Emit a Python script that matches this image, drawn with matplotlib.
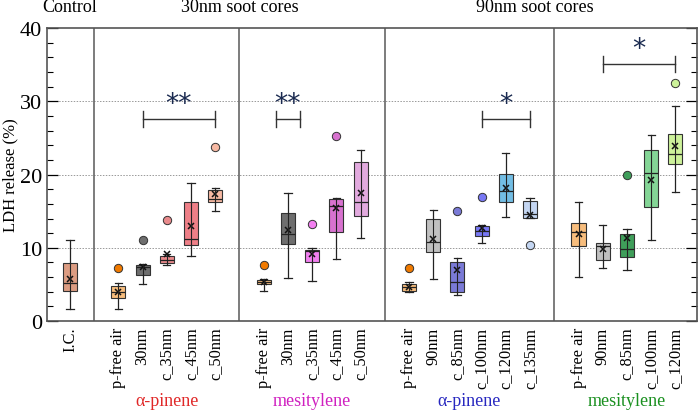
import matplotlib.pyplot as plt
from matplotlib.ticker import MultipleLocator

plt.rcParams['font.family'] = ['Liberation Serif', 'DejaVu Serif']

# category labels and positions (dividers sit between the groups)
labels = ['I.C.',
          'p-free air', '30nm', 'c_35nm', 'c_45nm', 'c_50nm',
          'p-free air', '30nm', 'c_35nm', 'c_45nm', 'c_50nm',
          'p-free air', '90nm', 'c_85nm', 'c_100nm', 'c_120nm', 'c_135nm',
          'p-free air', '90nm', 'c_85nm', 'c_100nm', 'c_120nm']
positions = [1, 3, 4, 5, 6, 7, 9, 10, 11, 12, 13,
             15, 16, 17, 18, 19, 20, 22, 23, 24, 25, 26]

# box statistics (LDH release, %)
whis_lo = [1.7, 1.6, 5.0, 7.6, 8.9, 15.0, 4.1, 5.9, 5.5, 8.5, 11.3,
           4.0, 5.7, 3.5, 10.6, 14.2, 14.1, 6.0, 7.3, 7.0, 11.0, 17.6]
q1 = [4.05, 3.2, 6.3, 7.9, 10.4, 16.3, 5.0, 10.5, 8.0, 12.1, 14.3,
      4.1, 9.4, 3.95, 11.55, 16.2, 14.1, 10.2, 8.3, 8.7, 15.6, 21.5]
med = [5.15, 4.0, 7.4, 8.4, 11.15, 16.6, 5.3, 11.9, 9.6, 15.7, 16.2,
       4.6, 10.8, 5.4, 12.25, 17.8, 14.6, 12.1, 10.3, 9.8, 20.15, 22.8]
q3 = [7.9, 4.8, 7.7, 8.9, 16.3, 17.9, 5.6, 14.7, 9.7, 16.6, 21.75,
      5.1, 14.0, 8.0, 13.0, 20.1, 16.4, 13.4, 10.6, 11.9, 23.4, 25.6]
whis_hi = [11.05, 5.2, 7.8, 9.2, 18.8, 18.2, 5.7, 17.5, 10.0, 16.8, 23.3,
           5.3, 15.2, 8.65, 13.15, 23.0, 16.75, 16.2, 13.1, 12.55, 25.35, 29.3]
means = [5.7, 4.0, 7.4, 9.15, 13.0, 17.3, 5.3, 12.4, 9.15, 15.5, 17.5,
         4.6, 11.2, 6.96, 12.65, 18.15, 14.5, 11.9, 9.8, 11.3, 19.25, 23.9]
outliers = [[], [7.2], [11.05], [13.75], [], [23.75], [7.7], [], [13.3], [25.2], [],
            [7.2], [], [15.05], [16.9], [], [10.4], [], [], [19.9], [], [32.5]]

box_colors = ['#dc9c82',
              '#f7bd7d', '#6e6e6e', '#e98a8c', '#ee7f87', '#f7b9a3',
              '#f7bd7d', '#6e6e6e', '#f27ff0', '#d872cf', '#e2aade',
              '#f7bd7d', '#c0c0c0', '#7a7ad6', '#7878f4', '#72bde4', '#c4d6f2',
              '#f7bd7d', '#c0c0c0', '#3f9e5a', '#84d596', '#cdf29a']
flier_colors = ['#dc9c82',
                '#f07a00', '#6e6e6e', '#e98a8c', '#ee7f87', '#f7b9a3',
                '#f07a00', '#6e6e6e', '#f27ff0', '#d872cf', '#e2aade',
                '#f07a00', '#c0c0c0', '#7a7ad6', '#7878f4', '#72bde4', '#c4d6f2',
                '#f07a00', '#c0c0c0', '#3f9e5a', '#84d596', '#cdf29a']

dividers = [2, 8, 14, 21]
group_names = ['α-pinene', 'mesitylene', 'α-pinene', 'mesitylene']
group_colors = ['#e02828', '#d020c0', '#2828c0', '#1a9020']
group_centers = [5, 11, 17.5, 24]

# significance brackets: (x start, x end, height, stars)
sig_x0 = [4, 9.5, 18, 23]
sig_x1 = [7, 10.5, 20, 26]
sig_y = [27.6, 27.6, 27.6, 35.1]
sig_txt = ['**', '**', '*', '*']

fig = plt.figure(figsize=(7, 4.14), dpi=100)
ax = fig.add_axes([0.067, 0.222, 0.929, 0.708])

stats = []
for i in range(len(labels)):
    stats.append(dict(whislo=whis_lo[i], q1=q1[i], med=med[i], q3=q3[i],
                      whishi=whis_hi[i], mean=means[i], fliers=[]))

bp = ax.bxp(stats, positions=positions, widths=0.58, patch_artist=True,
            showmeans=True, showfliers=False,
            boxprops=dict(linewidth=0.8, edgecolor='#333333'),
            medianprops=dict(color='#222222', linewidth=0.9),
            whiskerprops=dict(color='#222222', linewidth=0.9),
            capprops=dict(color='#222222', linewidth=0.9),
            capwidths=0.3,
            meanprops=dict(marker='x', markeredgecolor='#111111', markersize=5,
                           markeredgewidth=1.1))
for patch, c in zip(bp['boxes'], box_colors):
    patch.set_facecolor(c)
    patch.set_zorder(2)

# whisker line shows through the box
ax.vlines(positions, q1, q3, color='#222222', linewidth=0.8, zorder=3)

for p, vals, c in zip(positions, outliers, flier_colors):
    if vals:
        ax.plot([p] * len(vals), vals, 'o', color=c, markeredgecolor='#333333',
                markeredgewidth=0.7, markersize=6, zorder=4)

for d in dividers:
    ax.axvline(d, color='#666666', linewidth=1.2, zorder=1)

for yv in [10, 20, 30]:
    ax.axhline(yv, color='#999999', linestyle=(0, (1.5, 1.5)), linewidth=0.7, zorder=0)

for x0, x1, y, t in zip(sig_x0, sig_x1, sig_y, sig_txt):
    ax.plot([x0, x1], [y, y], color='#333333', linewidth=1)
    ax.plot([x0, x0], [y - 1.1, y + 1.1], color='#333333', linewidth=1)
    ax.plot([x1, x1], [y - 1.1, y + 1.1], color='#333333', linewidth=1)
    ax.text((x0 + x1) / 2, y + 0.2, t, ha='center', va='bottom',
            fontsize=19, color='#1a2a50', family='DejaVu Sans')

ax.set_xlim(0.05, 26.9)
ax.set_ylim(0, 40)
ax.set_xticks(positions)
ax.set_xticklabels(labels, rotation=90, fontsize=11.8)
ax.tick_params(axis='x', length=0, pad=4)
ax.yaxis.set_major_locator(MultipleLocator(10))
ax.yaxis.set_minor_locator(MultipleLocator(2))
ax.tick_params(axis='y', which='major', direction='in', length=8, labelsize=16,
               right=True, width=0.9)
ax.tick_params(axis='y', which='minor', direction='in', length=4, right=True, width=0.8)
ax.set_ylabel('LDH release (%)', fontsize=12, labelpad=1)
for s in ax.spines.values():
    s.set_color('#555555')
    s.set_linewidth(1.2)

trans = ax.get_xaxis_transform()
for xc, name, c in zip(group_centers, group_names, group_colors):
    ax.text(xc, -0.272, name, transform=trans, ha='center', va='center',
            fontsize=13, color=c)

ax.text(1, 1.072, 'Control', transform=trans, ha='center', va='center', fontsize=13)
ax.text(8, 1.072, '30nm soot cores', transform=trans, ha='center', va='center', fontsize=13)
ax.text(20.2, 1.072, '90nm soot cores', transform=trans, ha='center', va='center', fontsize=13)

fig.savefig('out.png', dpi=100)
